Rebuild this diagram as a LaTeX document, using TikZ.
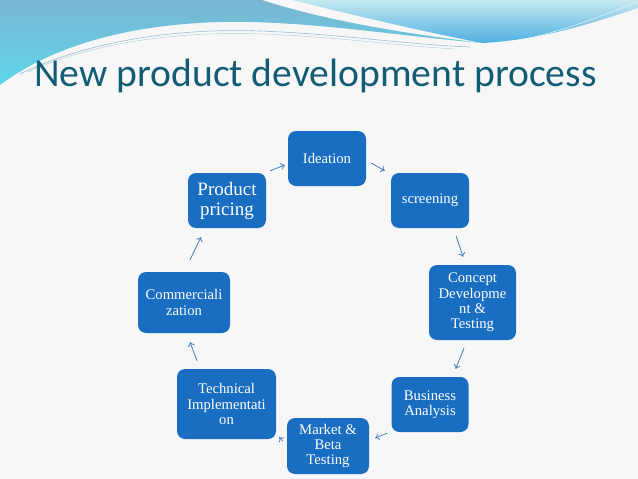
\documentclass[tikz,border=0pt]{standalone}
\usepackage{fontspec}
\setmainfont{Liberation Serif}
\newfontfamily\titlefont{Carlito}
\usetikzlibrary{arrows.meta,calc}
\definecolor{boxblue}{RGB}{26,110,194}
\definecolor{arrowblue}{RGB}{70,120,185}
\definecolor{titlecol}{RGB}{18,92,116}
\definecolor{bgcol}{RGB}{247,247,247}
\definecolor{waveA}{RGB}{122,182,210}
\definecolor{waveB}{RGB}{92,214,232}
\definecolor{waveC}{RGB}{196,232,240}
\definecolor{waveD}{RGB}{80,176,224}
\definecolor{thinline}{RGB}{150,190,210}
\begin{document}
\begin{tikzpicture}[x=1pt,y=-1pt,
  stepbox/.style={fill=boxblue, rounded corners=8pt, text=white, align=center,
    inner sep=1pt, font=\fontsize{14.7}{15.2}\selectfont},
  arr/.style={draw=arrowblue, line width=0.8pt, -{To[length=4pt,width=7pt]}}]
\useasboundingbox (0,0) rectangle (638,479);
\fill[bgcol] (0,0) rectangle (638,479);
% top waves
\shade[top color=waveA, bottom color=waveB]
  (0,0) -- (262,0) .. controls (330,22) and (410,34) .. (482,43)
  .. controls (400,36) and (330,24) .. (250,22)
  .. controls (150,20) and (60,40) .. (0,85) -- cycle;
\shade[top color=waveC, bottom color=waveD]
  (292,0) -- (638,0) -- (638,8) .. controls (590,24) and (540,40) .. (482,43)
  .. controls (420,31) and (345,13) .. (292,0) -- cycle;
\draw[thinline, line width=0.6pt] (20,74) .. controls (90,40) and (180,28) .. (260,31) .. controls (340,34) and (400,44) .. (470,47);
\draw[thinline!70, line width=0.5pt] (28,72) .. controls (95,41) and (185,31) .. (262,34) .. controls (340,37) and (400,46) .. (455,49);
\draw[white!85!waveD, line width=0.5pt] (520,40) .. controls (570,30) and (610,12) .. (638,2);
% title
\node[anchor=base west, inner sep=0, text=titlecol, font=\titlefont\fontsize{39.6}{48}\selectfont] (title) at (34,86) {New product development process};
% boxes
\node[stepbox, minimum width=78pt, minimum height=55pt] (i) at (327,158.5) {Ideation};
\node[stepbox, minimum width=78pt, minimum height=55pt] (s) at (430,200.5) {screening};
\node[stepbox, minimum width=87pt, minimum height=75pt] (c) at (472.5,302.5) {Concept\\Developme\\nt \&\\Testing};
\node[stepbox, minimum width=77pt, minimum height=55pt] (b) at (430,404.5) {Business\\Analysis};
\node[stepbox, minimum width=82pt, minimum height=56pt] (m) at (328,446) {Market \&\\Beta\\Testing};
\node[stepbox, minimum width=99pt, minimum height=70pt] (t) at (226.5,404) {Technical\\Implementati\\on};
\node[stepbox, minimum width=92pt, minimum height=61pt] (cm) at (184,302.5) {Commerciali\\zation};
\node[stepbox, minimum width=78pt, minimum height=55pt, font=\fontsize{19}{20}\selectfont] (p) at (227,200.5) {Product\\pricing};
% arrows
\draw[arr] ($(p.north east)+(4,-2)$) -- ($(i.west)+(-3,6.5)$);
\draw[arr] ($(i.east)+(5,4.5)$) -- ($(s.north west)+(-6,-2)$);
\draw[arr] ($(s.south east)+(-13,8)$) -- ($(c.north)+(-9.5,-8)$);
\draw[arr] ($(c.south)+(-8.5,8)$) -- ($(b.north east)+(-13,-8)$);
\draw[arr] ($(b.south west)+(-4,1)$) -- ($(m.east)+(6,-8)$);
\draw[arr] ($(m.west)+(-4,-5)$) -- ($(t.south east)+(3,-2)$);
\draw[arr] ($(t.north)+(-29.5,-8)$) -- ($(cm.south)+(6,9)$);
\draw[arr] ($(cm.north)+(6,-12)$) -- ($(p.south)+(-26,9)$);
\end{tikzpicture}
\end{document}
